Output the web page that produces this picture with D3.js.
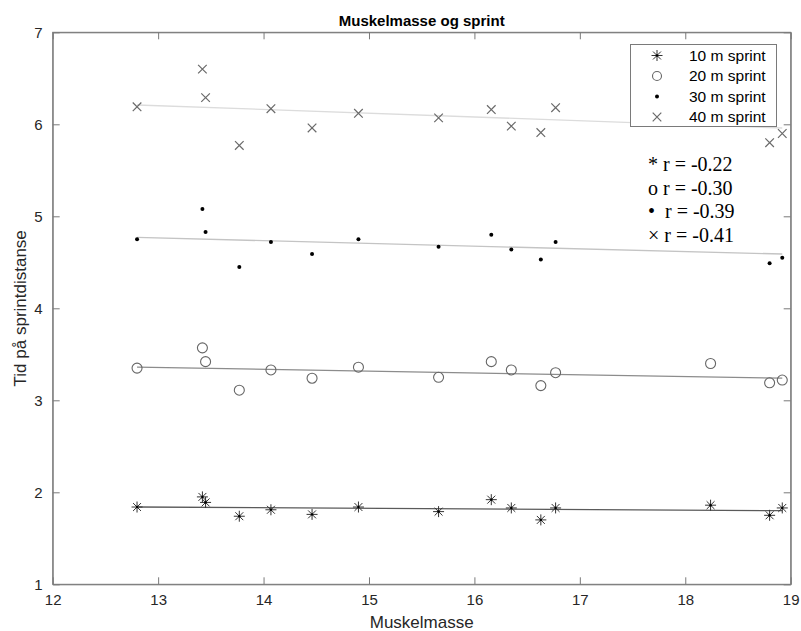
<!DOCTYPE html>
<html>
<head>
<meta charset="utf-8">
<script src="https://cdn.jsdelivr.net/npm/d3@7"></script>
<style>
  body { margin: 0; background: #fff; }
  svg { display: block; }
  text { font-family: "Liberation Sans", Arial, Helvetica, sans-serif; }
</style>
</head>
<body>
<svg id="chart"></svg>
<script>
// muscle mass per athlete (x) and sprint times (y)
var massAll = [12.80, 13.42, 13.45, 13.77, 14.07, 14.46, 14.90, 15.66, 16.16, 16.35, 16.63, 16.77, 18.24, 18.80, 18.92]
var sprint10 = [1.84, 1.95, 1.89, 1.74, 1.81, 1.76, 1.84, 1.79, 1.92, 1.83, 1.70, 1.83, 1.86, 1.75, 1.83]
var sprint20 = [3.35, 3.57, 3.42, 3.11, 3.33, 3.24, 3.36, 3.25, 3.42, 3.33, 3.16, 3.30, 3.40, 3.19, 3.22]
// no 30/40 m marks visible at 18.24
var mass3040 = [12.80, 13.42, 13.45, 13.77, 14.07, 14.46, 14.90, 15.66, 16.16, 16.35, 16.63, 16.77, 18.80, 18.92]
var sprint30 = [4.75, 5.08, 4.83, 4.45, 4.72, 4.59, 4.75, 4.67, 4.80, 4.64, 4.53, 4.72, 4.49, 4.55]
var sprint40 = [6.19, 6.60, 6.29, 5.77, 6.17, 5.96, 6.12, 6.07, 6.16, 5.98, 5.91, 6.18, 5.80, 5.90]

// fitted lines: value at first and last mass
var fitX = [12.80, 18.92]
var fit10 = [1.84, 1.80]
var fit20 = [3.36, 3.24]
var fit30 = [4.77, 4.59]
var fit40 = [6.21, 5.96]

var legendLabels = ["10 m sprint", "20 m sprint", "30 m sprint", "40 m sprint"]
var rLabels = ["* r = -0.22", "o r = -0.30", "\u2022  r = -0.39", "\u00d7 r = -0.41"]
var xTicks = [12, 13, 14, 15, 16, 17, 18, 19]
var yTicks = [1, 2, 3, 4, 5, 6, 7]

var width = 801, height = 631
var pLeft = 52.7, pRight = 790.7, pTop = 32.3, pBottom = 584.3

var svg = d3.select("#chart").attr("width", width).attr("height", height)

var x = d3.scaleLinear().domain([12, 19]).range([pLeft, pRight])
var y = d3.scaleLinear().domain([1, 7]).range([pBottom, pTop])

var axisColor = "#7a7a7a"
var textColor = "#262626"
var fmt = d3.format("d")

// ticks on all four sides, pointing inward
svg.append("g")
  .attr("transform", "translate(0," + pBottom + ")")
  .call(d3.axisBottom(x).tickValues(xTicks).tickFormat(fmt).tickSizeInner(-7).tickSizeOuter(0).tickPadding(10))
svg.append("g")
  .attr("transform", "translate(0," + pTop + ")")
  .call(d3.axisTop(x).tickValues(xTicks).tickSizeInner(-7).tickSizeOuter(0).tickFormat(""))
svg.append("g")
  .attr("transform", "translate(" + pLeft + ",0)")
  .call(d3.axisLeft(y).tickValues(yTicks).tickFormat(fmt).tickSizeInner(-7).tickSizeOuter(0).tickPadding(10))
svg.append("g")
  .attr("transform", "translate(" + pRight + ",0)")
  .call(d3.axisRight(y).tickValues(yTicks).tickSizeInner(-7).tickSizeOuter(0).tickFormat(""))

svg.selectAll(".domain").attr("stroke", axisColor)
svg.selectAll(".tick line").attr("stroke", axisColor)
svg.selectAll(".tick text")
  .attr("fill", textColor)
  .style("font-size", "15px")
  .style("font-family", "'Liberation Sans', Arial, sans-serif")

//box
svg.append("rect")
  .attr("x", pLeft).attr("y", pTop)
  .attr("width", pRight - pLeft).attr("height", pBottom - pTop)
  .attr("fill", "none").attr("stroke", axisColor)

// titles
svg.append("text")
  .attr("x", (pLeft + pRight) / 2).attr("y", 26)
  .attr("text-anchor", "middle")
  .style("font-size", "15px").style("font-weight", "bold")
  .attr("fill", "#000")
  .text("Muskelmasse og sprint")

svg.append("text")
  .attr("x", (pLeft + pRight) / 2).attr("y", 628)
  .attr("text-anchor", "middle")
  .style("font-size", "17px")
  .attr("fill", textColor)
  .text("Muskelmasse")

svg.append("text")
  .attr("transform", "translate(26," + (pTop + pBottom) / 2 + ") rotate(-90)")
  .attr("text-anchor", "middle")
  .style("font-size", "17px")
  .attr("fill", textColor)
  .text("Tid på sprintdistanse")

// fitted lines
var fits = [
  { v: fit10, color: "#5a5a5a" },
  { v: fit20, color: "#8c8c8c" },
  { v: fit30, color: "#c4c4c4" },
  { v: fit40, color: "#dcdcdc" }
]
var line = d3.line().x(function (d) { return x(d[0]) }).y(function (d) { return y(d[1]) })
fits.forEach(function (f) {
  svg.append("path")
    .attr("d", line(d3.zip(fitX, f.v)))
    .attr("fill", "none")
    .attr("stroke", f.color)
    .attr("stroke-width", 1.3)
})

// marker shapes
function asterisk(g, cx, cy, s) {
  var d = "M" + (cx - s) + "," + cy + "H" + (cx + s) +
    "M" + cx + "," + (cy - s) + "V" + (cy + s) +
    "M" + (cx - s * 0.72) + "," + (cy - s * 0.72) + "L" + (cx + s * 0.72) + "," + (cy + s * 0.72) +
    "M" + (cx - s * 0.72) + "," + (cy + s * 0.72) + "L" + (cx + s * 0.72) + "," + (cy - s * 0.72)
  g.append("path").attr("d", d).attr("stroke", "#333").attr("stroke-width", 1).attr("fill", "none")
  g.append("circle").attr("cx", cx).attr("cy", cy).attr("r", 1.2).attr("fill", "#000")
}
function cross(g, cx, cy, s) {
  var d = "M" + (cx - s) + "," + (cy - s) + "L" + (cx + s) + "," + (cy + s) +
    "M" + (cx - s) + "," + (cy + s) + "L" + (cx + s) + "," + (cy - s)
  g.append("path").attr("d", d).attr("stroke", "#6a6a6a").attr("stroke-width", 1.2).attr("fill", "none")
}
function ring(g, cx, cy, r) {
  g.append("circle").attr("cx", cx).attr("cy", cy).attr("r", r)
    .attr("fill", "none").attr("stroke", "#666").attr("stroke-width", 1.1)
}
function dot(g, cx, cy, r) {
  g.append("circle").attr("cx", cx).attr("cy", cy).attr("r", r).attr("fill", "#000")
}

var marks = svg.append("g")
massAll.forEach(function (m, i) { asterisk(marks, x(m), y(sprint10[i]), 5.5) })
massAll.forEach(function (m, i) { ring(marks, x(m), y(sprint20[i]), 5) })
mass3040.forEach(function (m, i) { dot(marks, x(m), y(sprint30[i]), 2) })
mass3040.forEach(function (m, i) { cross(marks, x(m), y(sprint40[i]), 4.3) })

// legend
var leg = svg.append("g")
leg.append("rect")
  .attr("x", 630.5).attr("y", 44.5).attr("width", 146).attr("height", 82)
  .attr("fill", "#fff").attr("stroke", axisColor)
var legDraw = [
  function (cx, cy) { asterisk(leg, cx, cy, 5.5) },
  function (cx, cy) { ring(leg, cx, cy, 4.5) },
  function (cx, cy) { dot(leg, cx, cy, 2) },
  function (cx, cy) { cross(leg, cx, cy, 4.3) }
]
legendLabels.forEach(function (lab, i) {
  var cy = 55.5 + i * 20.5
  legDraw[i](657, cy)
  leg.append("text")
    .attr("x", 689).attr("y", cy)
    .attr("dy", "0.35em")
    .style("font-size", "15.5px")
    .attr("fill", "#000")
    .text(lab)
})

// correlation notes
rLabels.forEach(function (lab, i) {
  svg.append("text")
    .attr("x", 648).attr("y", 171 + i * 23.6)
    .style("font-family", "'Liberation Serif', 'Times New Roman', serif")
    .style("font-size", "20px")
    .style("white-space", "pre")
    .attr("fill", "#000")
    .text(lab)
})
</script>
</body>
</html>
